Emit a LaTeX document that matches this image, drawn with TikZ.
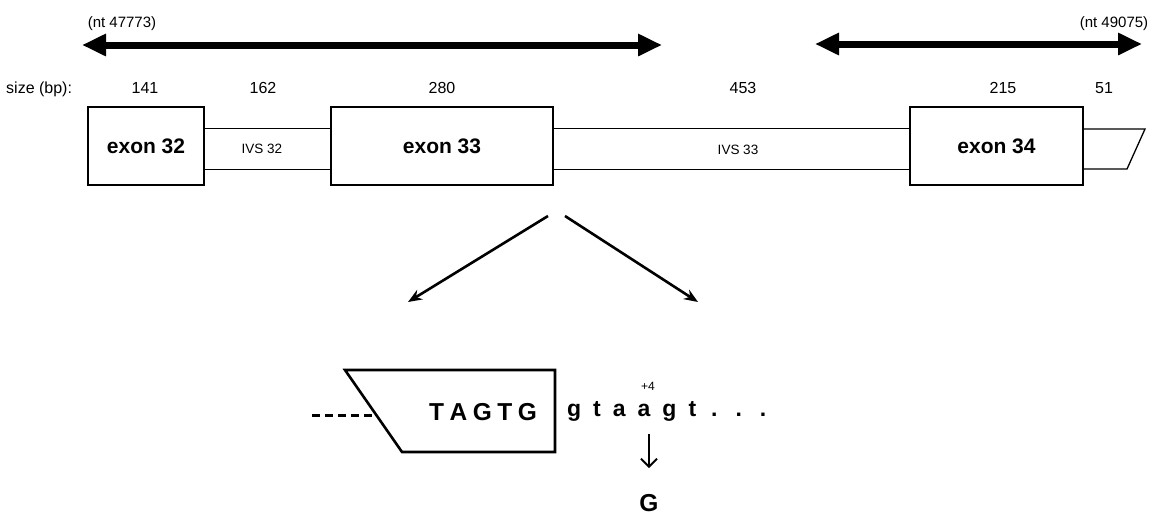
\documentclass[tikz,border=0pt]{standalone}
\usepackage{fontspec}
\setmainfont{Liberation Sans}
\usetikzlibrary{arrows.meta}
\begin{document}
\begin{tikzpicture}[x=1pt,y=-1pt,
  bigarrow/.style={line width=7pt,{Triangle[length=24pt,width=21pt]}-{Triangle[length=24pt,width=21pt]}},
  exonbox/.style={draw,line width=2.6pt,fill=white,inner sep=0pt,font=\fontsize{21}{23}\selectfont\bfseries},
  intron/.style={draw,line width=1.3pt,inner sep=0pt},
  ivslbl/.style={font=\fontsize{13.5}{15}\selectfont,inner sep=0pt},
  sizelbl/.style={font=\fontsize{16}{18}\selectfont,inner sep=0pt},
  ntlbl/.style={font=\fontsize{15}{17}\selectfont,inner sep=0pt},
  zoomarrow/.style={line width=2.6pt,-{Stealth[length=14pt,width=11pt]}},
  seq/.style={font=\fontsize{23}{25}\selectfont\bfseries,inner sep=0pt},
  capseq/.style={font=\fontsize{24.5}{26}\selectfont\bfseries,inner sep=0pt}]
\useasboundingbox (0,0) rectangle (1156,520);
% top arrows
\coordinate (a1l) at (82,45);
\coordinate (a1r) at (662,45);
\coordinate (a2l) at (815,44);
\coordinate (a2r) at (1142,44);
\draw[bigarrow] (a1l) -- (a1r);
\draw[bigarrow] (a2l) -- (a2r);
\node[ntlbl] (nt1) at (122,24) {(nt 47773)};
\node[ntlbl] (nt2) at (1114,24) {(nt 49075)};
% sizes
\node[sizelbl,anchor=west] (szlbl) at (6,89) {size (bp):};
\node[sizelbl] (s1) at (145,88) {141};
\node[sizelbl] (s2) at (263,88) {162};
\node[sizelbl] (s3) at (442,88) {280};
\node[sizelbl] (s4) at (743,88) {453};
\node[sizelbl] (s5) at (1003,88) {215};
\node[sizelbl] (s6) at (1104,88) {51};
% introns
\node[intron,minimum width=127pt,minimum height=41pt] (ivs32) at (267.5,149) {};
\node[intron,minimum width=357pt,minimum height=41pt] (ivs33) at (731.5,149) {};
\node[ivslbl] (ivs32lbl) at (262,149) {IVS 32};
\node[ivslbl] (ivs33lbl) at (738,150) {IVS 33};
% 3' tail
\draw[line width=1.3pt] (1083,129) -- (1145,129) -- (1127,169) -- (1083,169);
% exons
\node[exonbox,minimum width=116pt,minimum height=78pt] (ex32) at (146,146) {exon 32};
\node[exonbox,minimum width=222pt,minimum height=78pt] (ex33) at (442,146) {exon 33};
\node[exonbox,minimum width=173pt,minimum height=78pt] (ex34) at (996.5,146) {exon 34};
% zoom arrows
\coordinate (z1s) at (548,216);
\coordinate (z1e) at (408,302);
\coordinate (z2s) at (565,216);
\coordinate (z2e) at (698,302);
\draw[zoomarrow] (z1s) -- (z1e);
\draw[zoomarrow] (z2s) -- (z2e);
% detail
\draw[line width=2.6pt,line join=miter] (345,370) -- (555,370) -- (555,452) -- (402,452) -- cycle;
\coordinate (dashend) at (376,415);
\draw[line width=3pt,dash pattern=on 8pt off 5pt] (312,415) -- (dashend);
\node[capseq] (exseq) at (483,412) {T\hspace{5.5pt}A\hspace{5.5pt}G\hspace{5.5pt}T\hspace{5.5pt}G};
\node[seq,anchor=west] (inseq) at (567,411) {g\hspace{12pt}t\hspace{12pt}a\hspace{12pt}a\hspace{12pt}g\hspace{12pt}t\hspace{15pt}.\hspace{18pt}.\hspace{18pt}.};
\node[font=\fontsize{12}{14}\selectfont,inner sep=0pt] (plus4) at (648,386) {+4};
\node[capseq] (gmut) at (649,503) {G};
\draw[line width=1.8pt,-{Straight Barb[length=8pt,width=16pt]}] (649,434) -- (649,468);
\end{tikzpicture}
\end{document}
